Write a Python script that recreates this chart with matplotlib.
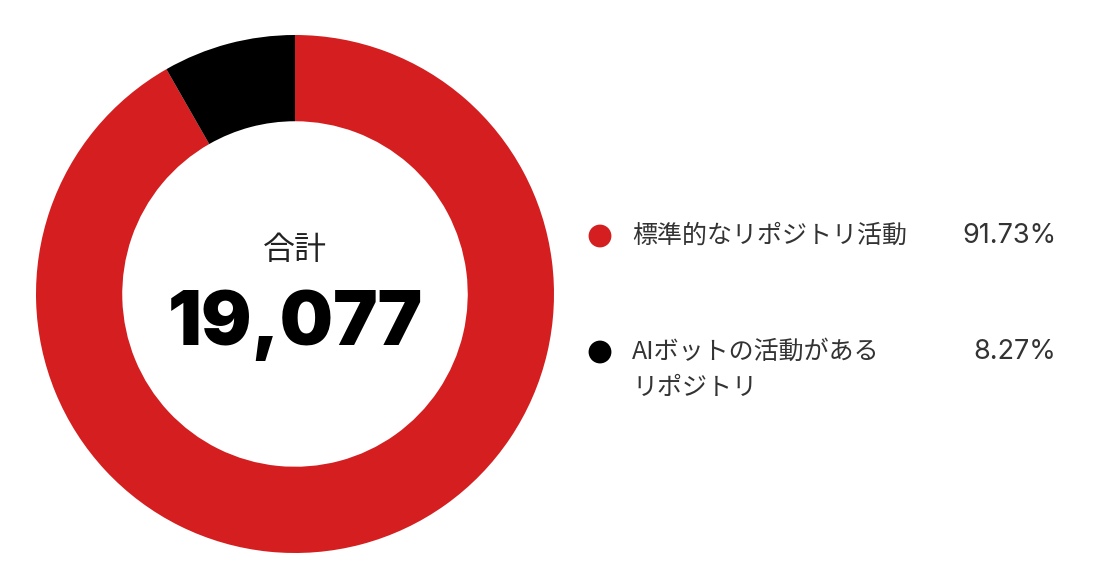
import matplotlib
matplotlib.use("Agg")
import matplotlib.pyplot as plt

categories = ["標準的なリポジトリ活動", "AIボットの活動がある\nリポジトリ"]
values = [91.73, 8.27]
pct_labels = ["91.73%", "8.27%"]
colors = ["#D41E1F", "#000000"]
total_label = "合計"
total_value = "19,077"

plt.rcParams['font.family'] = ['Noto Sans CJK JP', 'DejaVu Sans']

W, H = 1108, 588
fig = plt.figure(figsize=(W / 100, H / 100), dpi=100)
fig.patch.set_facecolor("white")

# pie axes: center (295, 294) px, outer radius 259 px
cx, cy, r = 295, 294, 259
ax = fig.add_axes([(cx - r) / W, (H - cy - r) / H, 2 * r / W, 2 * r / H])
ax.pie(values, colors=colors, startangle=90, counterclock=False,
       radius=1.0, wedgeprops=dict(width=0.333, edgecolor='none'))
ax.set_xlim(-1, 1)
ax.set_ylim(-1, 1)
ax.set_aspect('equal')
ax.axis('off')

ax.text(0, 0.17, total_label, ha='center', va='center', fontsize=23, color='#222222')
ax.text(0, -0.197, total_value, ha='center', va='baseline', fontsize=54,
        fontweight='black', family=['Inter', 'DejaVu Sans'], color='#000000')

# legend
leg = fig.add_axes([0, 0, 1, 1])
leg.set_xlim(0, W)
leg.set_ylim(H, 0)
leg.axis('off')
rows_y = [236, 352]
for i, (cat, pct, col) in enumerate(zip(categories, pct_labels, colors)):
    y = rows_y[i]
    leg.scatter([600], [y], s=270, color=col, edgecolors='none')
    leg.text(632, y - 13, cat, ha='left', va='top', fontsize=18,
             color='#333333', linespacing=1.5)
    leg.text(1056, y, pct, ha='right', va='center', fontsize=19.5,
             family=['Inter', 'DejaVu Sans'], color='#333333')

fig.savefig("out.png", dpi=100, facecolor="white")
